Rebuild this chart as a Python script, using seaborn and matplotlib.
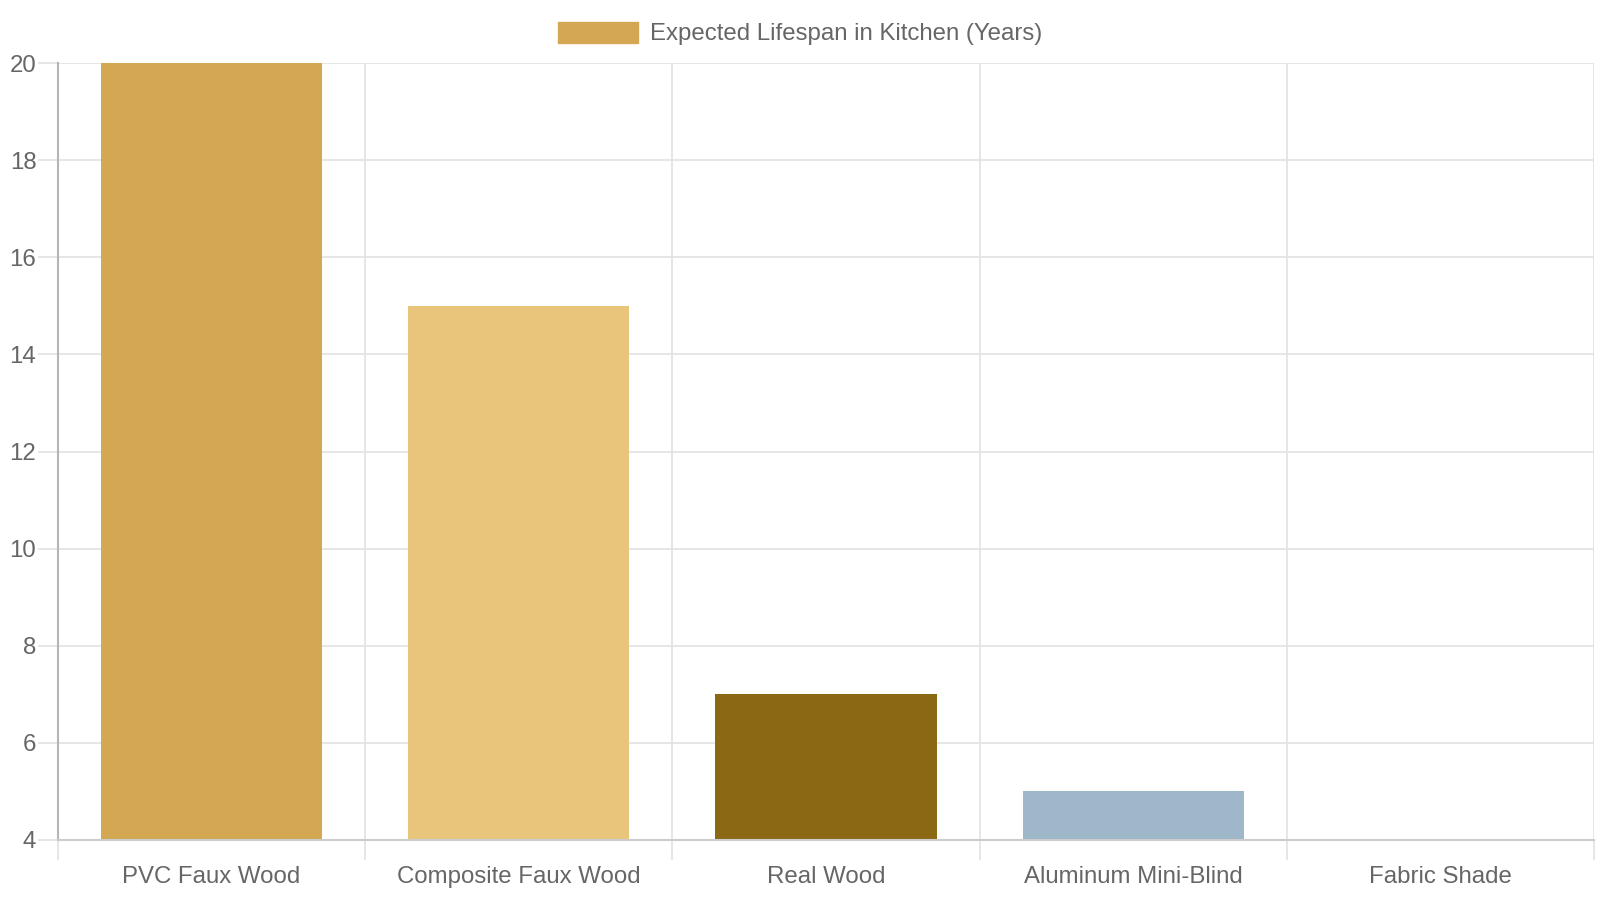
import matplotlib
matplotlib.use("Agg")
import matplotlib.pyplot as plt
import seaborn as sns
import pandas as pd
from matplotlib.patches import Patch

categories = ["PVC Faux Wood", "Composite Faux Wood", "Real Wood", "Aluminum Mini-Blind", "Fabric Shade"]
lifespan = [20, 15, 7, 5, 3]
colors = ["#D4A853", "#E8C57A", "#8B6914", "#9EB7C9", "#C9B8A8"]
series_label = "Expected Lifespan in Kitchen (Years)"
y_ticks = [4, 6, 8, 10, 12, 14, 16, 18, 20]

sns.set_theme(style="white")
plt.rcParams['font.family'] = ['Liberation Sans', 'DejaVu Sans']

TXT = "#666666"
GRID = "#e2e2e2"
FS = 17.3

df = pd.DataFrame({"cat": categories, "val": lifespan})

fig = plt.figure(figsize=(16, 9), dpi=100)
ax = fig.add_axes([58 / 1600, 1 - 840 / 900, (1594 - 58) / 1600, (840 - 63) / 900])

sns.barplot(data=df, x="cat", y="val", hue="cat", palette=colors, order=categories,
            hue_order=categories, width=0.72, legend=False, ax=ax, saturation=1,
            linewidth=0)

ax.set_ylim(4, 20)
ax.set_xlim(-0.5, len(categories) - 0.5)
ax.set_yticks(y_ticks)
ax.set_xticks(range(len(categories)))
ax.set_xticklabels(categories)
ax.set_xticks([i - 0.5 for i in range(len(categories) + 1)], minor=True)
ax.set_xlabel("")
ax.set_ylabel("")
ax.set_axisbelow(True)

ax.grid(True, axis="y", which="major", color=GRID, linewidth=1.2)
ax.grid(True, axis="x", which="minor", color=GRID, linewidth=1.2)
ax.grid(False, axis="x", which="major")

ax.tick_params(axis="x", which="major", length=0, pad=18.5, labelsize=FS, labelcolor=TXT)
ax.tick_params(axis="x", which="minor", length=14.4, width=1.2, color=GRID, bottom=True)
ax.tick_params(axis="y", which="major", length=14.4, width=1.2, color=GRID, pad=1.2,
               labelsize=FS, labelcolor=TXT, left=True)

for s in ["top", "right"]:
    ax.spines[s].set_visible(False)
ax.spines["left"].set_color("#b5b5b5")
ax.spines["left"].set_linewidth(1.5)
ax.spines["bottom"].set_color("#cccccc")
ax.spines["bottom"].set_linewidth(1.5)

handle = Patch(facecolor=colors[0], edgecolor=colors[0], label=series_label)
fig.legend(handles=[handle], loc="center", bbox_to_anchor=(0.5, 1 - 33.5 / 900),
           frameon=False, fontsize=FS, labelcolor=TXT, handlelength=3.33,
           handleheight=0.96, handletextpad=0.5, borderaxespad=0)

fig.savefig("out.png", dpi=100)
